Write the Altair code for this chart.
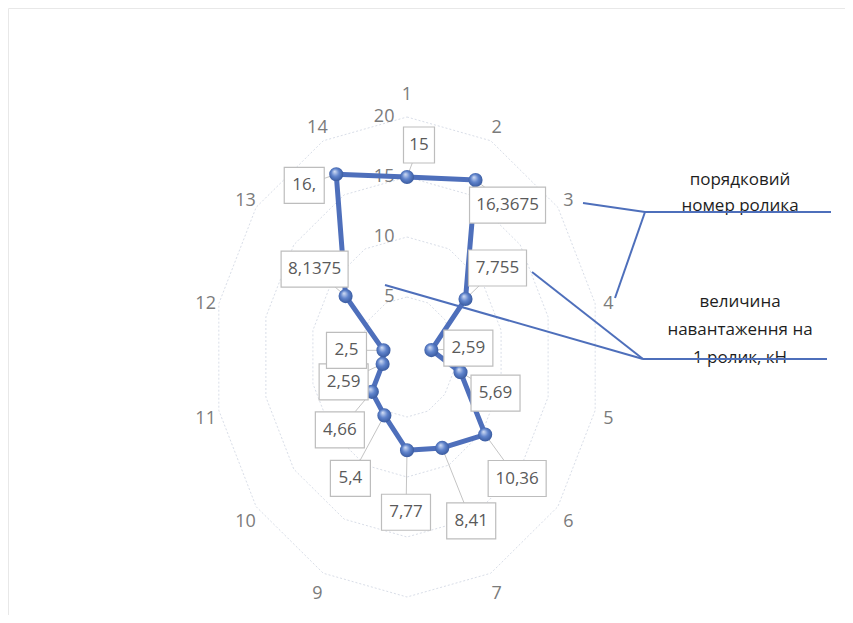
import altair as alt
import pandas as pd

# ---------------- data ----------------
CATEGORIES = [str(i) for i in range(1, 15)]
VALUES = [15, 16.3675, 7.755, 2.59, 5.69, 10.36, 8.41, 7.77, 5.4, 4.66, 2.59, 2.5, 8.1375, 16.9]
LABELS = ["15", "16,3675", "7,755", "2,59", "5,69", "10,36", "8,41", "7,77",
          "5,4", "4,66", "2,59", "2,5", "8,1375", "16,"]
RING_VALUES = [5, 10, 15, 20]
RING_LABELS = ["5", "10", "15", "20"]
HIDDEN_CATEGORY_LABELS = ["8"]
ANNOT_TOP = ["порядковий", "номер ролика"]
ANNOT_BOTTOM = ["величина", "навантаження на", "1 ролик, кН"]

# ---------------- layout / style ----------------
W, H = 837, 607
CX, CY = 407, 357          # page position of the radar centre
KX, KY = 9.65, 12.0        # px per unit horizontally / vertically
N = len(CATEGORIES)
CAT_RX, CAT_RY, CAT_SHIFT, CAT_TOP_EXTRA = 21.4, 21.5, -0.38, 0.75
# callout offsets of data labels, px (right, down)
LABEL_DX = [12, 32, 32, 37, 35, 32, 29, -1, -34, -32, -39, -37, -31, -32]
LABEL_DY = [-32, 25, -31, -2, 21, 44, 73, 62, 63, 38, 18, 0, -27, 11]

xmin, xmax = -(CX - 8) / KX, (W - (CX - 8)) / KX
ymin, ymax = -(H - (CY - 8)) / KY, (CY - 8) / KY
xs = alt.Scale(domain=[xmin, xmax], nice=False, zero=False)
ys = alt.Scale(domain=[ymin, ymax], nice=False, zero=False)

FONT = "Open Sans"
LINE_BLUE = "#4e6fbb"

pts = pd.DataFrame({
    "idx": list(range(N)),
    "cat": CATEGORIES,
    "value": VALUES,
    "label": LABELS,
    "ldx": LABEL_DX,
    "ldy": LABEL_DY,
})

loop = pd.DataFrame({
    "order": list(range(N + 1)),
    "idx": [i % N for i in range(N + 1)],
    "value": [VALUES[i % N] for i in range(N + 1)],
})

rings = pd.DataFrame([
    {"ring": r, "k": k} for r in RING_VALUES for k in range(N + 1)
])

cats = pd.DataFrame({"idx": list(range(N)), "cat": CATEGORIES})
ring_lab = pd.DataFrame({"r": RING_VALUES, "lab": RING_LABELS})

ANG = "2*PI*datum.idx/%d" % N


def X(f):
    return alt.X(f + ":Q", scale=xs, axis=None)


def Y(f):
    return alt.Y(f + ":Q", scale=ys, axis=None)


grid = alt.Chart(rings).transform_calculate(
    ang="2*PI*datum.k/%d" % N,
).transform_calculate(
    x="datum.ring*sin(datum.ang)", y="datum.ring*cos(datum.ang)"
).mark_line(color="#d9dee8", strokeWidth=1, strokeDash=[2, 2]).encode(
    x=X("x"), y=Y("y"), detail="ring:N", order="k:Q"
)

cat_text = alt.Chart(cats).transform_filter(
    "indexof(%s, datum.cat) < 0" % str(HIDDEN_CATEGORY_LABELS).replace("'", '"')
).transform_calculate(
    ang=ANG
).transform_calculate(
    x="%f*sin(datum.ang)" % CAT_RX,
    y="%f + %f*cos(datum.ang) + %f*pow(max(cos(datum.ang), 0), 20)" % (CAT_SHIFT, CAT_RY, CAT_TOP_EXTRA)
).mark_text(font=FONT, fontSize=18, color="#7b7b7b", baseline="middle").encode(
    x=X("x"), y=Y("y"), text="cat:N"
)

ring_text = alt.Chart(ring_lab).transform_calculate(
    x="-1.3", y="datum.r"
).mark_text(font=FONT, fontSize=18, color="#7b7b7b", align="right", baseline="middle").encode(
    x=X("x"), y=Y("y"), text="lab:N"
)

base_pts = alt.Chart(pts).transform_calculate(
    ang=ANG
).transform_calculate(
    x="datum.value*sin(datum.ang)", y="datum.value*cos(datum.ang)"
).transform_calculate(
    lx="datum.x + datum.ldx/%f" % KX, ly="datum.y - datum.ldy/%f" % KY,
    hw="(9*length(datum.label)+13)/2/%f" % KX
).transform_calculate(
    bx1="datum.lx - datum.hw", bx2="datum.lx + datum.hw",
    by1="datum.ly - 18/%f" % KY, by2="datum.ly + 18/%f" % KY
)

leaders = base_pts.mark_rule(color="#c4c4c4", strokeWidth=1).encode(
    x=X("x"), y=Y("y"), x2="lx:Q", y2="ly:Q"
)

series = alt.Chart(loop).transform_calculate(
    ang=ANG
).transform_calculate(
    x="datum.value*sin(datum.ang)", y="datum.value*cos(datum.ang)"
).mark_line(color=LINE_BLUE, strokeWidth=5, strokeJoin="round").encode(
    x=X("x"), y=Y("y"), order="order:Q"
)

ball = alt.Gradient(
    gradient="radial", x1=0.38, y1=0.3, x2=0.5, y2=0.5, r1=0, r2=0.62,
    stops=[alt.GradientStop(offset=0, color="#d5e0f5"),
           alt.GradientStop(offset=0.45, color="#5f83cc"),
           alt.GradientStop(offset=1, color="#2c4c8f")]
)
points = base_pts.mark_circle(size=200, opacity=1, fill=ball).encode(
    x=X("x"), y=Y("y")
)

boxes = base_pts.mark_rect(fill="white", stroke="#bdbdbd", strokeWidth=1.2).encode(
    x=X("bx1"), x2="bx2:Q", y=Y("by1"), y2="by2:Q"
)

box_text = base_pts.mark_text(font=FONT, fontSize=17, color="#5a5a5a", baseline="middle").encode(
    x=X("lx"), y=Y("ly"), text="label:N"
)

one = pd.DataFrame({"a": [0]})


def rule(x1, y1, x2, y2):
    return alt.Chart(one).mark_rule(color=LINE_BLUE, strokeWidth=2).encode(
        x=alt.value(x1 - 8), y=alt.value(y1 - 8), x2=alt.value(x2 - 8), y2=alt.value(y2 - 8)
    )


def note(txt, x, y):
    return alt.Chart(one).mark_text(font=FONT, fontSize=17, color="#1e1e1e", baseline="middle").encode(
        x=alt.value(x - 8), y=alt.value(y - 8), text=alt.value(txt)
    )


annot = [
    rule(583, 203, 645, 212), rule(645, 212, 831, 212), rule(645, 212, 615, 298),
    rule(643, 359, 827, 359), rule(643, 359, 532, 272), rule(643, 359, 385, 285),
]
notes = [note(t, 740, 180 + 26 * i) for i, t in enumerate(ANNOT_TOP)] + \
        [note(t, 740, 302 + 28 * i) for i, t in enumerate(ANNOT_BOTTOM)]

chart = alt.layer(
    grid, cat_text, ring_text, leaders, series, points, boxes, box_text, *notes, *annot
).properties(
    width=W, height=H, autosize=alt.AutoSizeParams(type="none"), padding=0,
    background="white"
).configure_view(stroke="#e8e8e8")

chart.save("out.html", embed_options={"renderer": "svg", "actions": False})
